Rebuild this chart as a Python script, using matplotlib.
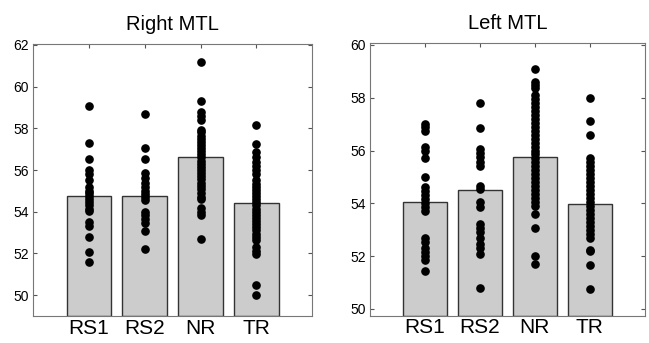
import numpy as np
import matplotlib
matplotlib.use("Agg")
import matplotlib.pyplot as plt

plt.rcParams['font.family'] = ['Liberation Sans', 'DejaVu Sans']

groups = ["RS1", "RS2", "NR", "TR"]

# Right MTL
right_means = [54.76, 54.77, 56.6, 54.42]
right_rs1 = [59.05, 57.3, 56.55, 56.0, 55.8, 55.5, 55.2, 55.0, 54.9, 54.75, 54.6,
             54.45, 54.3, 54.15, 54.05, 53.5, 53.3, 52.8, 52.05, 51.6]
right_rs2 = [58.7, 57.05, 56.55, 55.85, 55.6, 55.4, 55.2, 55.0, 54.85, 54.7, 54.55,
             54.0, 53.85, 53.65, 53.45, 53.05, 52.2]
right_nr = [61.2, 59.3, 58.8, 58.6, 58.4, 57.9, 57.8, 57.65, 57.5, 57.35, 57.2, 57.05,
            56.9, 56.75, 56.6, 56.45, 56.3, 56.15, 56.0, 55.85, 55.7, 55.55, 55.4,
            55.25, 55.1, 54.9, 54.7, 54.6, 54.2, 54.0, 53.85, 52.7]
right_tr = [58.15, 57.25, 56.85, 56.6, 56.4, 56.2, 56.0, 55.8, 55.5, 55.35, 55.2, 55.05,
            54.9, 54.75, 54.6, 54.45, 54.3, 54.15, 54.0, 53.85, 53.7, 53.55, 53.4,
            53.25, 53.1, 52.95, 52.8, 52.65, 52.3, 52.1, 51.95, 50.5, 50.0]

# Left MTL
left_means = [54.04, 54.5, 55.76, 53.98]
left_rs1 = [57.0, 56.9, 56.75, 56.15, 56.0, 55.7, 55.0, 54.6, 54.45, 54.3, 54.15, 54.0,
            53.85, 53.7, 52.7, 52.55, 52.3, 52.15, 52.0, 51.85, 51.45]
left_rs2 = [57.8, 56.85, 56.05, 55.9, 55.75, 55.55, 55.4, 54.65, 54.55, 54.05, 53.85,
            53.2, 53.05, 52.9, 52.7, 52.45, 52.3, 52.1, 50.8]
left_nr = [59.1, 58.6, 58.5, 58.35, 58.1, 57.95, 57.8, 57.65, 57.5, 57.35, 57.2, 57.05,
           56.9, 56.75, 56.6, 56.45, 56.3, 56.15, 56.0, 55.85, 55.7, 55.55, 55.4, 55.25,
           55.1, 54.95, 54.8, 54.65, 54.5, 54.35, 54.2, 54.05, 53.9, 53.6, 53.05, 52.0, 51.7]
left_tr = [58.0, 57.1, 56.6, 55.7, 55.55, 55.4, 55.25, 55.1, 54.95, 54.8, 54.65, 54.5,
           54.35, 54.2, 54.05, 53.9, 53.75, 53.6, 53.45, 53.3, 53.15, 53.0, 52.85, 52.7,
           52.25, 52.2, 51.65, 50.75]

right_yticks = [50, 52, 54, 56, 58, 60, 62]
left_yticks = [50, 52, 54, 56, 58, 60]

fig = plt.figure(figsize=(6.49, 3.43), dpi=100)
ax1 = fig.add_axes([0.051, 0.079, 0.430, 0.793])
ax2 = fig.add_axes([0.570, 0.080, 0.4237, 0.796])


def panel(ax, title, means, points, ylim, yticks):
    pos = np.arange(1, len(groups) + 1)
    ax.bar(pos, np.array(means) - ylim[0], bottom=ylim[0], width=0.8,
           color="#cccccc", edgecolor="#333333", linewidth=1.0, zorder=2)
    for p, vals in zip(pos, points):
        ax.plot([p] * len(vals), vals, "o", color="black", markersize=5.2,
                linestyle="none", zorder=3)
    ax.set_xlim(0, 5)
    ax.set_ylim(*ylim)
    ax.set_xticks(pos)
    ax.set_xticklabels(groups, fontsize=15)
    ax.set_yticks(yticks)
    ax.tick_params(axis="y", labelsize=10, direction="in", length=3, right=True,
                   color="#555555", pad=3)
    ax.tick_params(axis="x", direction="in", length=3, top=True, color="#555555", pad=2)
    for s in ax.spines.values():
        s.set_color("#777777")
        s.set_linewidth(0.8)
    ax.set_title(title, fontsize=14.5, pad=10)


panel(ax1, "Right MTL", right_means, [right_rs1, right_rs2, right_nr, right_tr],
      (49, 62.05), right_yticks)
panel(ax2, "Left MTL", left_means, [left_rs1, left_rs2, left_nr, left_tr],
      (49.75, 60.09), left_yticks)

fig.savefig("out.png", dpi=100)
